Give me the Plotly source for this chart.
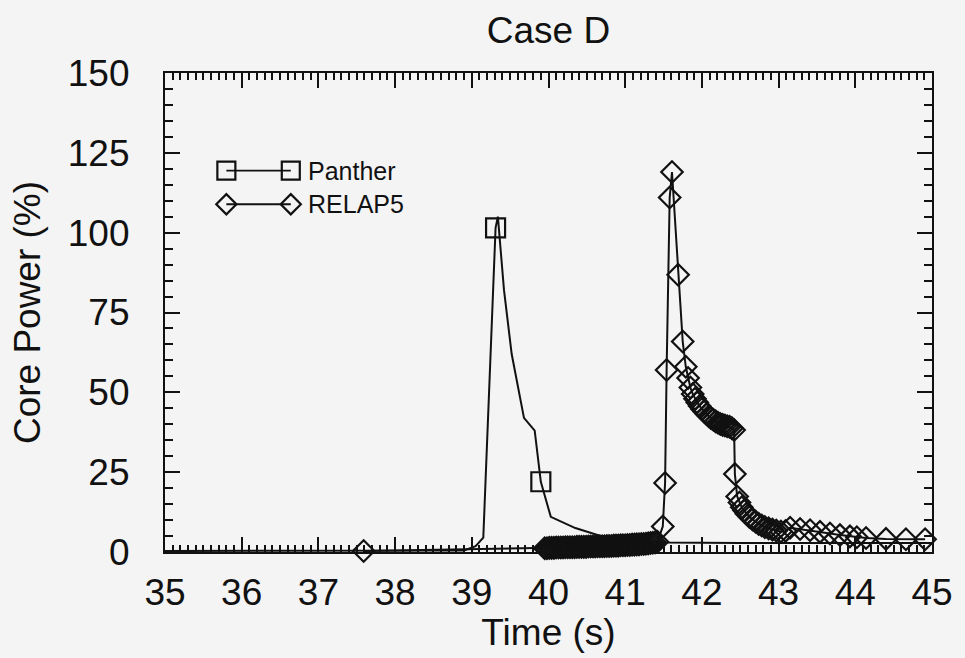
import plotly.graph_objects as go

# ---------------- data ----------------
panther_t = [35.0, 38.9, 39.05, 39.15, 39.31, 39.34, 39.42, 39.52, 39.68, 39.75,
             39.82, 39.90, 40.03, 40.35, 40.68, 41.0, 41.5, 42.5, 43.5, 45.0]
panther_p = [0.3, 0.5, 1.8, 4.5, 101.5, 105.0, 82.0, 62.0, 42.0, 40.0,
             38.0, 22.0, 11.0, 7.5, 5.0, 3.8, 3.0, 2.8, 2.8, 2.8]
panther_marked = [4, 11]   # indices of points drawn with a square

relap_t = [37.59,
           39.95, 39.98, 40.01, 40.04, 40.07, 40.10, 40.13, 40.16, 40.19, 40.22,
           40.25, 40.28, 40.31, 40.34, 40.37, 40.40, 40.43, 40.46, 40.49, 40.52,
           40.55, 40.58, 40.61, 40.64, 40.67, 40.70, 40.73, 40.76, 40.79, 40.82,
           40.85, 40.88, 40.91, 40.94, 40.97, 41.00, 41.03, 41.06, 41.09, 41.12,
           41.15, 41.18, 41.21, 41.24, 41.27, 41.30, 41.33, 41.36, 41.39, 41.42,
           41.49, 41.52, 41.54, 41.58, 41.61, 41.69, 41.75, 41.79, 41.82, 41.85,
           41.88, 41.91, 41.94, 41.97, 42.00, 42.03, 42.06, 42.09, 42.12, 42.15,
           42.18, 42.21, 42.24, 42.27, 42.30, 42.33, 42.36, 42.39, 42.42,
           42.43, 42.46, 42.49, 42.52, 42.55, 42.58, 42.62, 42.66, 42.70, 42.74,
           42.78, 42.82, 42.87, 42.92, 42.97, 43.03, 43.09, 43.15, 43.28, 43.41,
           43.54, 43.67, 43.80, 43.93, 44.02, 44.14, 44.40, 44.66, 44.91]
relap_p = [0.3,
           1.2, 1.2, 1.3, 1.3, 1.3, 1.4, 1.4, 1.4, 1.4, 1.5,
           1.5, 1.5, 1.5, 1.5, 1.6, 1.6, 1.6, 1.6, 1.6, 1.7,
           1.7, 1.7, 1.7, 1.8, 1.8, 1.8, 1.8, 1.9, 1.9, 1.9,
           2.0, 2.0, 2.0, 2.1, 2.1, 2.1, 2.2, 2.2, 2.3, 2.3,
           2.4, 2.4, 2.5, 2.5, 2.6, 2.7, 2.8, 2.9, 3.0, 3.2,
           8.0, 21.6, 57.0, 111.0, 119.0, 86.8, 65.9, 58.0, 54.5, 51.5,
           49.5, 48.0, 46.8, 45.7, 44.8, 44.0, 43.2, 42.5, 41.9, 41.4,
           40.9, 40.5, 40.1, 39.8, 39.6, 39.4, 39.2, 38.8, 38.2,
           24.4, 17.4, 15.5, 14.0, 13.0, 12.0, 11.0, 10.2, 9.5, 8.8,
           8.3, 7.8, 7.4, 7.0, 6.7, 6.4, 6.6, 7.6, 7.2, 6.8,
           6.3, 5.8, 5.3, 4.9, 4.6, 4.4, 4.1, 4.0, 4.0]

x_ticks = [35, 36, 37, 38, 39, 40, 41, 42, 43, 44, 45]
y_ticks = [0, 25, 50, 75, 100, 125, 150]

title_text = "Case D"
x_title = "Time (s)"
y_title = "Core Power (%)"
series_names = ["Panther", "RELAP5"]

# ---------------- style ----------------
INK = "#111111"
BG = "#f4f4f4"
FONT = "Liberation Sans, Arial, sans-serif"

fig = go.Figure()

fig.add_trace(go.Scatter(
    x=panther_t, y=panther_p, mode="lines", name=series_names[0],
    line=dict(color=INK, width=2), cliponaxis=False, showlegend=False))
fig.add_trace(go.Scatter(
    x=[panther_t[i] for i in panther_marked],
    y=[panther_p[i] for i in panther_marked],
    mode="markers", name=series_names[0],
    marker=dict(symbol="square-open", size=19, color=INK,
                line=dict(color=INK, width=2.2)),
    cliponaxis=False, showlegend=False))

fig.add_trace(go.Scatter(
    x=relap_t, y=relap_p, mode="lines+markers", name=series_names[1],
    line=dict(color=INK, width=2),
    marker=dict(symbol="diamond-open", size=16.5, color=INK,
                line=dict(color=INK, width=2.2)),
    cliponaxis=False, showlegend=False))

# ---- custom legend (marker - line - marker) on an overlay axis ----
leg_x = [0.080, 0.164]
leg_rows = [0.796, 0.726]
leg_symbols = ["square-open", "diamond-open"]
leg_sizes = [18, 15.5]
for name, yy, sym, sz in zip(series_names, leg_rows, leg_symbols, leg_sizes):
    fig.add_trace(go.Scatter(
        x=leg_x, y=[yy, yy], xaxis="x2", yaxis="y2", mode="lines+markers",
        line=dict(color=INK, width=1.8),
        marker=dict(symbol=sym, size=sz, color=INK, line=dict(color=INK, width=2.2)),
        showlegend=False, hoverinfo="skip", cliponaxis=False))
    fig.add_annotation(x=0.184, y=yy, xref="paper", yref="paper", text=name,
                       showarrow=False, xanchor="left", yanchor="middle",
                       font=dict(family=FONT, size=25, color=INK))

axis_common = dict(
    showline=True, linecolor=INK, linewidth=2.2, mirror="allticks",
    ticks="inside", tickcolor=INK, tickwidth=2, ticklen=15,
    showgrid=False, zeroline=False,
    tickfont=dict(family=FONT, size=37, color=INK),
)

fig.update_layout(
    width=965, height=658,
    margin=dict(l=165, r=28, t=73, b=101),
    paper_bgcolor=BG, plot_bgcolor=BG,
    title=dict(text=title_text, x=0.5, xref="paper", xanchor="center",
               y=0.955, yref="container", yanchor="middle",
               font=dict(family=FONT, size=37, color=INK)),
    xaxis=dict(range=[35, 45], tickvals=x_ticks, ticktext=[str(v) for v in x_ticks],
               minor=dict(dtick=0.1, ticks="inside", ticklen=7, tickwidth=1.5,
                          tickcolor=INK, showgrid=False),
               ticklabelstandoff=6,
               title=dict(text=x_title, standoff=8,
                          font=dict(family=FONT, size=37, color=INK)),
               **axis_common),
    yaxis=dict(range=[0, 150], tickvals=y_ticks, ticktext=[str(v) for v in y_ticks],
               minor=dict(dtick=5, ticks="inside", ticklen=8, tickwidth=1.5,
                          tickcolor=INK, showgrid=False),
               ticklabelstandoff=26,
               title=dict(text=y_title, standoff=16,
                          font=dict(family=FONT, size=37, color=INK)),
               **axis_common),
    xaxis2=dict(overlaying="x", range=[0, 1], visible=False, fixedrange=True),
    yaxis2=dict(overlaying="y", range=[0, 1], visible=False, fixedrange=True),
    showlegend=False,
)

fig.write_html("out.html")
